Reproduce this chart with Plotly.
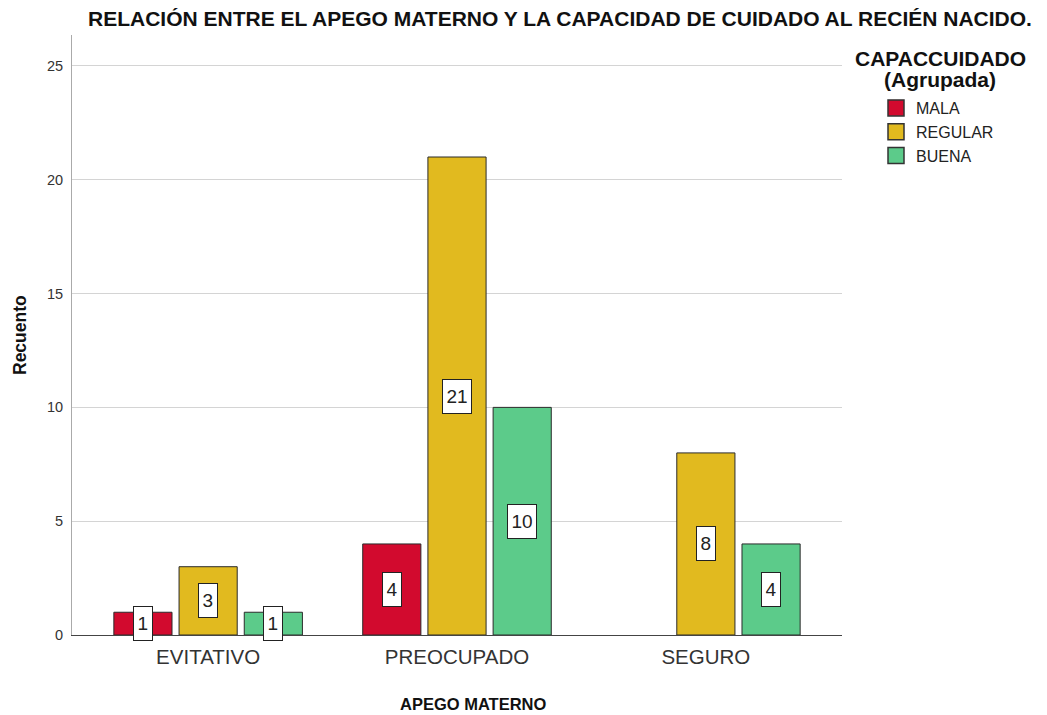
import plotly.graph_objects as go

categories = ["EVITATIVO", "PREOCUPADO", "SEGURO"]
series_names = ["MALA", "REGULAR", "BUENA"]
mala = [1, 4, None]
regular = [3, 21, 8]
buena = [1, 10, 4]
colors = ["#D20A2E", "#E1BA1F", "#5CCB8A"]
y_ticks = [0, 5, 10, 15, 20, 25]
legend_title_lines = ["CAPACCUIDADO", "(Agrupada)"]

series = [mala, regular, buena]

# the page body has an 8px margin; figure coordinates are page - 8
OFF = 8
W, H = 1047 - OFF, 715 - OFF
ml, mt = 72 - OFF, 35 - OFF
mr = W - (842 - OFF)
mb = H - (635 - OFF)
pw = W - ml - mr
ph = H - mt - mb
x_range = [-0.547, 2.547]
bargap = 0.214
slot = (1 - bargap) / len(series)
FONT = "Liberation Sans, Arial"

fig = go.Figure()
for name, vals, col in zip(series_names, series, colors):
    fig.add_trace(go.Bar(
        x=categories, y=vals, name=name, legendgroup=name, showlegend=False,
        marker=dict(color=col, line=dict(color="#2b2b2b", width=1)),
        hoverinfo="x+y+name",
    ))
# legend entries with larger square swatches
for name, col in zip(series_names, colors):
    fig.add_trace(go.Scatter(
        x=[None], y=[None], mode="markers", name=name, legendgroup=name,
        marker=dict(symbol="square", size=16, color=col,
                    line=dict(color="#333333", width=1.5)),
        hoverinfo="skip",
    ))

annotations = []
for i, vals in enumerate(series):
    for ci, v in enumerate(vals):
        if v is None:
            continue
        annotations.append(dict(
            x=ci + (i - (len(series) - 1) / 2) * slot, y=v / 2,
            xref="x", yref="y", text=str(v), showarrow=False,
            font=dict(family=FONT, size=19, color="#222222"),
            bgcolor="white", bordercolor="#222222", borderwidth=1,
            borderpad=3.5, height=26,
        ))

# axis titles
annotations.append(dict(
    x=-(72 - 20) / pw, y=0.5, xref="paper", yref="paper",
    text="<b>Recuento</b>", textangle=-90, showarrow=False,
    font=dict(family=FONT, size=17.5, color="#111111"),
    xanchor="center", yanchor="middle",
))
annotations.append(dict(
    x=(473 - 72) / pw, y=-(704 - 635) / ph,
    xref="paper", yref="paper",
    text="<b>APEGO MATERNO</b>", showarrow=False,
    font=dict(family=FONT, size=16.5, color="#111111"),
    xanchor="center", yanchor="middle",
))
# legend title (two lines, centred)
for k, (line, yc) in enumerate(zip(legend_title_lines, [58, 80])):
    annotations.append(dict(
        x=(940 - 72) / pw, y=1 + (35 - yc) / ph,
        xref="paper", yref="paper",
        text="<b>" + line + "</b>", showarrow=False,
        font=dict(family=FONT, size=21, color="#111111"),
        xanchor="center", yanchor="middle", align="center",
    ))

fig.update_layout(
    width=W, height=H,
    margin=dict(l=ml, r=mr, t=mt, b=mb),
    paper_bgcolor="white", plot_bgcolor="white",
    barmode="group", bargap=bargap, bargroupgap=0.108,
    title=dict(
        text="<b>RELACIÓN ENTRE EL APEGO MATERNO Y LA CAPACIDAD DE CUIDADO AL RECIÉN NACIDO.</b>",
        x=(88 - OFF) / W, xanchor="left", xref="container",
        y=1 - (19 - OFF) / H, yanchor="middle", yref="container",
        font=dict(family=FONT, size=21, color="#111111"),
    ),
    font=dict(family=FONT, color="#222222"),
    legend=dict(
        x=(876 - 72) / pw, xanchor="left", y=1 + (35 - 91) / ph, yanchor="top",
        font=dict(family=FONT, size=16, color="#222222"),
        tracegroupgap=0, itemwidth=30, itemsizing="trace",
        bgcolor="rgba(0,0,0,0)",
    ),
    annotations=annotations,
    xaxis=dict(
        type="category", range=x_range, showgrid=False,
        showline=True, linecolor="#444444", linewidth=1,
        ticks="", tickfont=dict(family=FONT, size=20.5, color="#333333"),
        ticklabelstandoff=3,
        fixedrange=True,
    ),
    yaxis=dict(
        range=[0, 26.36], tickvals=y_ticks, ticktext=[str(t) for t in y_ticks],
        showgrid=True, gridcolor="#D4D4D4", gridwidth=1,
        showline=True, linecolor="#AAAAAA", linewidth=1,
        zeroline=False, ticks="",
        tickfont=dict(family=FONT, size=14.5, color="#333333"),
        ticklabelstandoff=5,
    ),
)

fig.write_html("out.html")
